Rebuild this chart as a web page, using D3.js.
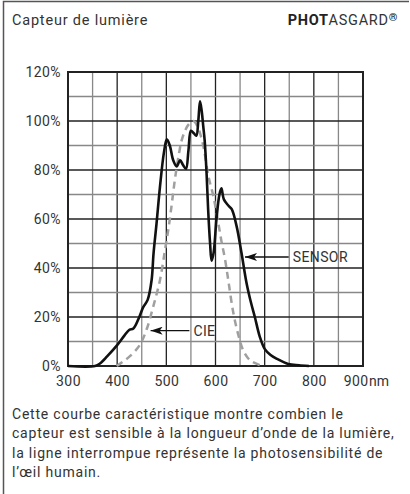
<!DOCTYPE html>
<html>
<head>
<meta charset="utf-8">
<script src="https://cdn.jsdelivr.net/npm/d3@7"></script>
<style>
  body { margin: 0; background: #fff; }
  svg text { font-family: Roboto, "Liberation Sans", sans-serif; fill: #333; }
</style>
</head>
<body>
<svg id="chart" width="410" height="494"></svg>
<script>
// sensor response, [nm, %]
let sensor = [
  [300,0],[355,0],[365,1],[380,4],[400,8.5],[415,12.5],[425,14.8],[433,15.3],[445,20],
  [453,24],[462,27],[470,35],[474,46],[480,58],[487,73],[495,87],[501,92.5],[507,90],
  [514,84],[521,81.5],[528,84],[534,82],[540,80.5],[545,88],[550,96],[556,95],[561,94],
  [565,100],[568.5,108],[572,104],[575,98],[578,92],[582,78],[585,64],[589,50],[592,43],
  [596,46],[602,60],[608,70],[612,72.5],[617,68],[626,65.5],[633,64],[643,57],[653,46],
  [663,34],[672,26],[680,20],[690,12],[700,7],[712,4.5],[724,3],[748,0.8],[770,0.3],[790,0]
];
// CIE eye sensitivity, [nm, %]
let cie = [
  [399,0],[410,1.5],[426,4],[446,8.6],[460,15],[473,24],[487,35],[497,47],[505,57],
  [511,66],[516,74],[521,81],[526,87],[531,92],[538,96],[545,98.5],[555,100],[563,98],
  [570,94],[577,88],[585,78],[596,69],[606,58],[612,51],[619,44],[626,35],[636,22],
  [646,13],[656,6.5],[665,3.5],[674,1.8],[695,0]
];
let xTicks = [300, 400, 500, 600, 700, 800, 900];
let yTicks = [0, 20, 40, 60, 80, 100, 120];
let title = 'Capteur de lumière';
let caption = [
  'Cette courbe caractéristique montre combien le',
  'capteur est sensible à la longueur d\u2019onde de la lumière,',
  'la ligne interrompue représente la photosensibilité de',
  'l\u2019œil humain.'
];
let labels = [
  {text: 'SENSOR', nm: 660, v: 44.5, textNm: 757},
  {text: 'CIE', nm: 468, v: 14.4, textNm: 555}
];

let svg = d3.select('#chart');
let x = d3.scaleLinear().domain([300, 900]).range([68, 363]);
let y = d3.scaleLinear().domain([0, 120]).range([366, 72]);

// frame
svg.append('path')
  .attr('d', 'M3.5,494 V1.5 H409')
  .attr('fill', 'none')
  .attr('stroke', '#555')
  .attr('stroke-width', 1.5);

svg.append('text').attr('x', 12).attr('y', 25)
  .style('font-size', '14.5px').style('letter-spacing', '0.8px').text(title);
let brand = svg.append('text').attr('x', 398).attr('y', 25)
  .attr('text-anchor', 'end').style('font-size', '14.5px').style('letter-spacing', '0.7px');
brand.append('tspan').style('font-weight', 'bold').style('fill', '#222').text('PHOT');
brand.append('tspan').text('ASGARD');
brand.append('tspan').attr('dy', -4).style('font-size', '11px').style('font-weight', 'bold').style('fill', '#222').text('®');

// grid
let g = svg.append('g');
g.selectAll('.vgrid').data(d3.range(300, 901, 50)).enter()
  .append('line')
  .attr('x1', d => x(d)).attr('x2', d => x(d))
  .attr('y1', y(0)).attr('y2', y(120))
  .attr('stroke', d => d % 100 === 0 ? '#222' : '#888')
  .attr('stroke-width', 1.3);
g.selectAll('.hgrid').data(d3.range(0, 121, 10)).enter()
  .append('line')
  .attr('x1', x(300)).attr('x2', x(900))
  .attr('y1', d => y(d)).attr('y2', d => y(d))
  .attr('stroke', d => d % 20 === 0 ? '#222' : '#888')
  .attr('stroke-width', 1.3);
g.append('rect')
  .attr('x', x(300)).attr('y', y(120))
  .attr('width', x(900) - x(300)).attr('height', y(0) - y(120))
  .attr('fill', 'none').attr('stroke', '#222').attr('stroke-width', 2);

// axes labels
let yAxis = svg.append('g').attr('transform', 'translate(' + x(300) + ',0)')
  .call(d3.axisLeft(y).tickValues(yTicks).tickSize(0).tickPadding(7).tickFormat(d => d + '%'));
yAxis.select('.domain').remove();
yAxis.selectAll('text').style('font-size', '14px').style('letter-spacing', '0.4px').attr('fill', '#333');

let xAxis = svg.append('g').attr('transform', 'translate(0,' + y(0) + ')')
  .call(d3.axisBottom(x).tickValues(xTicks).tickSize(0).tickPadding(10));
xAxis.select('.domain').remove();
xAxis.selectAll('text').style('font-size', '14px').style('letter-spacing', '0.4px').attr('fill', '#333');
// last label sits left of its line to leave room for the unit
xAxis.selectAll('.tick').filter(d => d === 900).select('text')
  .attr('text-anchor', 'end').attr('x', 5);
xAxis.append('text').attr('x', x(900) + 6).attr('y', 10).attr('dy', '0.71em')
  .attr('fill', '#333').attr('text-anchor', 'start')
  .style('font-size', '14px').text('nm');

// curves
let line = d3.line().x(d => x(d[0])).y(d => y(d[1])).curve(d3.curveCatmullRom.alpha(0.5));
svg.append('path').datum(cie)
  .attr('d', line).attr('fill', 'none')
  .attr('stroke', '#a0a0a0').attr('stroke-width', 2.5)
  .attr('stroke-dasharray', '7,5');
svg.append('path').datum(sensor)
  .attr('d', line).attr('fill', 'none')
  .attr('stroke', '#111').attr('stroke-width', 2.6)
  .attr('stroke-linejoin', 'round');

// arrows
svg.append('defs').append('marker')
  .attr('id', 'arr').attr('viewBox', '0 0 12 8')
  .attr('refX', 0).attr('refY', 4)
  .attr('markerWidth', 12).attr('markerHeight', 8)
  .attr('markerUnits', 'userSpaceOnUse').attr('orient', 'auto')
  .append('path').attr('d', 'M0,4 L12,0 L9,4 L12,8 Z').attr('fill', '#111');

labels.forEach(function(l) {
  svg.append('line')
    .attr('x1', x(l.nm)).attr('x2', x(l.textNm) - 4)
    .attr('y1', y(l.v)).attr('y2', y(l.v))
    .attr('stroke', '#111').attr('stroke-width', 1.3)
    .attr('marker-start', 'url(#arr)');
  svg.append('text')
    .attr('x', x(l.textNm)).attr('y', y(l.v) + 5)
    .style('font-size', '14px').style('letter-spacing', '0.4px').text(l.text);
});

// caption
svg.selectAll('.cap').data(caption).enter()
  .append('text')
  .attr('x', 12).attr('y', (d, i) => 419 + i * 19.3)
  .style('font-size', '14px').style('letter-spacing', '0.78px')
  .text(d => d);
</script>
</body>
</html>
